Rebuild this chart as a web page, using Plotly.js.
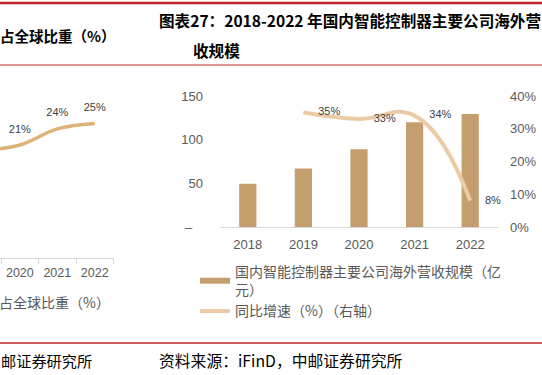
<!DOCTYPE html>
<html>
<head>
<meta charset="utf-8">
<script src="https://cdn.plot.ly/plotly-3.0.1.min.js"></script>
<style>html,body{margin:0;padding:0;background:#fff;}#chart{width:542px;height:375px;}</style>
</head>
<body>
<div id="chart"></div>
<script>
// Right chart data
const years = ['2018', '2019', '2020', '2021', '2022'];
const revenue = [49.5, 66.9, 89, 120, 129.4];          // 亿元
const growthYears = ['2019', '2020', '2021', '2022'];
const growth = [35, 33, 34, 8];                         // %
const revTicks = [0, 50, 100, 150];
const revTickText = ['–\u00a0\u00a0\u00a0', '50', '100', '150'];
const pctTicks = [0, 10, 20, 30, 40];

// Left (cropped) chart data
const leftYears = [2019, 2020, 2021, 2022];
const share = [20, 21, 24, 25];                          // %
const leftTicks = [2020, 2021, 2022];

const revName = '国内智能控制器主要公司海外营收规模（亿<br>元）';
const growthName = '同比增速（%）（右轴）';
const shareName = '占全球比重（%）';

const W = 542, H = 375;
const px = v => v / W;
const py = v => 1 - v / H;

const tickFont = {family: 'Liberation Sans, Arial, sans-serif', size: 13, color: '#595959'};
const labelFont = {family: 'Liberation Sans, Arial, sans-serif', size: 11, color: '#404040'};
const cjk = 'Noto Sans CJK SC, sans-serif';

const traces = [
  // left cropped chart line
  {
    x: leftYears, y: share, xaxis: 'x', yaxis: 'y',
    type: 'scatter', mode: 'lines+markers+text',
    line: {color: '#DDB277', width: 3.5, shape: 'spline', smoothing: 1},
    marker: {size: 14, color: 'rgba(0,0,0,0)'},
    text: share.map((v, i) => leftYears[i] >= leftTicks[0] ? v + '%' : ''),
    textposition: 'top center', textfont: labelFont,
    name: shareName, legend: 'legend2', showlegend: true, cliponaxis: true
  },
  // bars
  {
    x: years, y: revenue, xaxis: 'x2', yaxis: 'y2', type: 'bar',
    marker: {color: '#C49E6C'}, name: revName, showlegend: false, hoverinfo: 'skip'
  },
  // growth line on right axis
  {
    x: growthYears, y: growth, xaxis: 'x2', yaxis: 'y3',
    type: 'scatter', mode: 'lines+markers+text',
    line: {color: '#EBCBA5', width: 4, shape: 'spline', smoothing: 1.3},
    marker: {size: 22, color: 'rgba(0,0,0,0)'},
    text: growth.map(v => v + '%'), textposition: 'middle right', textfont: labelFont,
    name: growthName, showlegend: false, cliponaxis: false
  },
  // legend proxies
  {x: [null], y: [null], xaxis: 'x2', yaxis: 'y2', type: 'scatter', mode: 'lines',
   line: {color: '#C49E6C', width: 6}, name: revName, showlegend: true},
  {x: [null], y: [null], xaxis: 'x2', yaxis: 'y2', type: 'scatter', mode: 'lines',
   line: {color: '#EBCBA5', width: 4}, name: growthName, showlegend: true}
];

const layout = {
  width: W, height: H,
  margin: {l: 0, r: 0, t: 0, b: 0, autoexpand: false},
  paper_bgcolor: '#fff', plot_bgcolor: 'rgba(0,0,0,0)',
  showlegend: true,
  bargap: 0.69,
  xaxis: {
    domain: [0, px(113.5)], range: [2019.47, 2022.5], anchor: 'y',
    tickvals: leftTicks, ticktext: leftTicks.map(String), ticks: '',
    showline: true, linecolor: '#d9d9d9', linewidth: 1, showgrid: false, zeroline: false,
    tickfont: {family: 'Liberation Sans, Arial, sans-serif', size: 12.5, color: '#595959'},
    ticklabelstandoff: 3,
    minor: {tickvals: [2019.5, 2020.5, 2021.5, 2022.5], ticks: 'outside', ticklen: 5, tickcolor: '#d9d9d9', showgrid: false},
    fixedrange: true
  },
  yaxis: {
    domain: [py(258), py(90)], range: [0, 168 / 5.38], anchor: 'x', visible: false
  },
  xaxis2: {
    domain: [px(220), px(498)], anchor: 'y2', type: 'category',
    showline: true, linecolor: '#d9d9d9', linewidth: 1, ticks: '', showgrid: false,
    tickfont: tickFont, ticklabelstandoff: 5
  },
  yaxis2: {
    domain: [py(227), py(96)], range: [0, 150], anchor: 'x2',
    tickvals: revTicks, ticktext: revTickText, showgrid: false, zeroline: false, showline: false,
    tickfont: tickFont, ticklabelstandoff: 16
  },
  yaxis3: {
    overlaying: 'y2', side: 'right', anchor: 'x2', range: [0, 40],
    tickvals: pctTicks, ticktext: pctTicks.map(v => v + '%'),
    showgrid: false, zeroline: false, showline: false,
    tickfont: tickFont, ticklabelstandoff: 11
  },
  legend: {
    x: px(195), y: py(256), xanchor: 'left', yanchor: 'top',
    font: {family: cjk, size: 14, color: '#595959'},
    bgcolor: 'rgba(0,0,0,0)', traceorder: 'normal', tracegroupgap: 0
  },
  legend2: {
    x: px(-41), y: py(287), xanchor: 'left', yanchor: 'top',
    font: {family: cjk, size: 14, color: '#595959'},
    bgcolor: 'rgba(0,0,0,0)'
  },
  shapes: [
    {type: 'line', xref: 'paper', yref: 'paper', x0: 0, x1: 1, y0: py(3), y1: py(3), line: {color: '#C0282D', width: 2.5}},
    {type: 'line', xref: 'paper', yref: 'paper', x0: 0, x1: 1, y0: py(65), y1: py(65), line: {color: '#C0282D', width: 1.2}},
    {type: 'line', xref: 'paper', yref: 'paper', x0: 0, x1: 1, y0: py(343), y1: py(343), line: {color: '#C0282D', width: 1.5}}
  ],
  annotations: [
    {text: '<b>图表27：2018-2022 年国内智能控制器主要公司海外营</b>', xref: 'paper', yref: 'paper',
     x: px(157), y: py(20), xanchor: 'left', yanchor: 'middle', showarrow: false,
     font: {family: cjk, size: 15.6, color: '#000'}},
    {text: '<b>收规模</b>', xref: 'paper', yref: 'paper',
     x: px(191), y: py(50), xanchor: 'left', yanchor: 'middle', showarrow: false,
     font: {family: cjk, size: 15.6, color: '#000'}},
    {text: '<b>占全球比重（%）</b>', xref: 'paper', yref: 'paper',
     x: px(-2), y: py(35), xanchor: 'left', yanchor: 'middle', showarrow: false,
     font: {family: cjk, size: 14.5, color: '#000'}},
    {text: '资料来源：iFinD，中邮证券研究所', xref: 'paper', yref: 'paper',
     x: px(157), y: py(360), xanchor: 'left', yanchor: 'middle', showarrow: false,
     font: {family: cjk, size: 15.8, color: '#000'}},
    {text: '邮证券研究所', xref: 'paper', yref: 'paper',
     x: px(-1), y: py(360), xanchor: 'left', yanchor: 'middle', showarrow: false,
     font: {family: cjk, size: 15.2, color: '#000'}}
  ]
};

Plotly.newPlot('chart', traces, layout, {staticPlot: true, displayModeBar: false});
</script>
</body>
</html>
